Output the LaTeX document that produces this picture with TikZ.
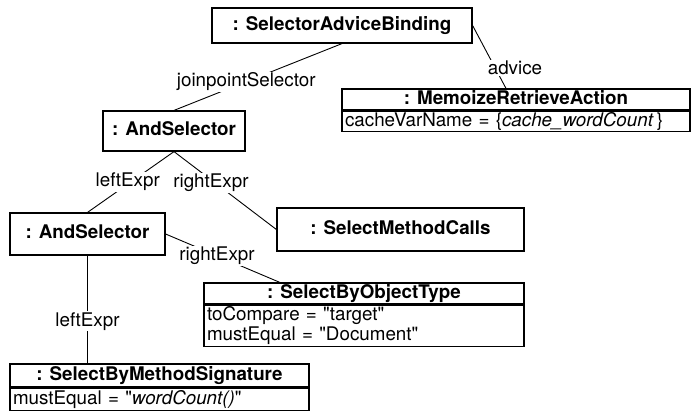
\documentclass[tikz,border=0pt]{standalone}
\usepackage{fontspec}
\setmainfont{TeX Gyre Heros}[Ligatures=TeXOff]
\usepackage{tikz}
\usetikzlibrary{positioning, calc}

\newcommand{\umlfont}{\fontsize{18.8}{20}\selectfont}

\tikzset{
    objbox/.style={draw, line width=1.2pt, font=\umlfont\bfseries, inner sep=0pt,
        text height=13.6pt, text depth=3.8pt},
    attrbox/.style={draw, line width=1.2pt, font=\umlfont, anchor=north, inner xsep=3pt,
        inner ysep=0pt, align=left},
    rolelbl/.style={fill=white, font=\umlfont, inner sep=1pt},
    link/.style={line width=0.9pt}
}

\begin{document}
\begin{tikzpicture}[x=1pt, y=-1pt]
    \useasboundingbox (0,0) rectangle (691,412);

    % objects
    \node[objbox, minimum width=260pt, minimum height=35pt] (sab) at (342,25.5) {: SelectorAdviceBinding};
    \node[objbox, minimum width=348pt, minimum height=21pt] (mra) at (516,99.5) {: MemoizeRetrieveAction};
    \node[attrbox, text width=342pt, minimum height=20pt] (mraattr) at (mra.south)
        {cacheVarName = \{\textit{cache\_wordCount}\,\}};
    \node[objbox, minimum width=142pt, minimum height=40pt] (and1) at (174,131) {: AndSelector};
    \node[objbox, minimum width=155pt, minimum height=42pt] (and2) at (87.5,234) {: AndSelector};
    \node[objbox, minimum width=247pt, minimum height=43pt] (smc) at (400.5,229.5) {: SelectMethodCalls};
    \node[objbox, minimum width=320pt, minimum height=21pt] (sbot) at (364,293.5) {: SelectByObjectType};
    \node[attrbox, text width=314pt, minimum height=41pt] (sbotattr) at (sbot.south)
        {toCompare = "target"\\mustEqual = "Document"};
    \node[objbox, minimum width=299pt, minimum height=23pt] (sbms) at (159.5,375.5) {: SelectByMethodSignature};
    \node[attrbox, text width=293pt, minimum height=22pt] (sbmsattr) at (sbms.south)
        {mustEqual = "\textit{wordCount()}"};

    % links
    \draw[link] (sab.south) -- node[rolelbl, pos=0.57] {joinpointSelector} (and1.north);
    \draw[link] (sab.east) -- node[rolelbl, pos=0.67, xshift=20pt] {advice} ($(mra.north)+(-10,0)$);
    \draw[link] (and1.south) -- node[rolelbl, pos=0.5, xshift=-3pt] {leftExpr} (and2.north);
    \draw[link] (and1.south) -- node[rolelbl, pos=0.4, xshift=-4pt] {rightExpr} (smc.west);
    \draw[link] (and2.east) -- node[rolelbl, pos=0.45] {rightExpr} ($(sbot.north west)!0.238!(sbot.north east)$);
    \draw[link] (and2.south) -- node[rolelbl, pos=0.61] {leftExpr} (and2.south |- sbms.north);
\end{tikzpicture}
\end{document}
